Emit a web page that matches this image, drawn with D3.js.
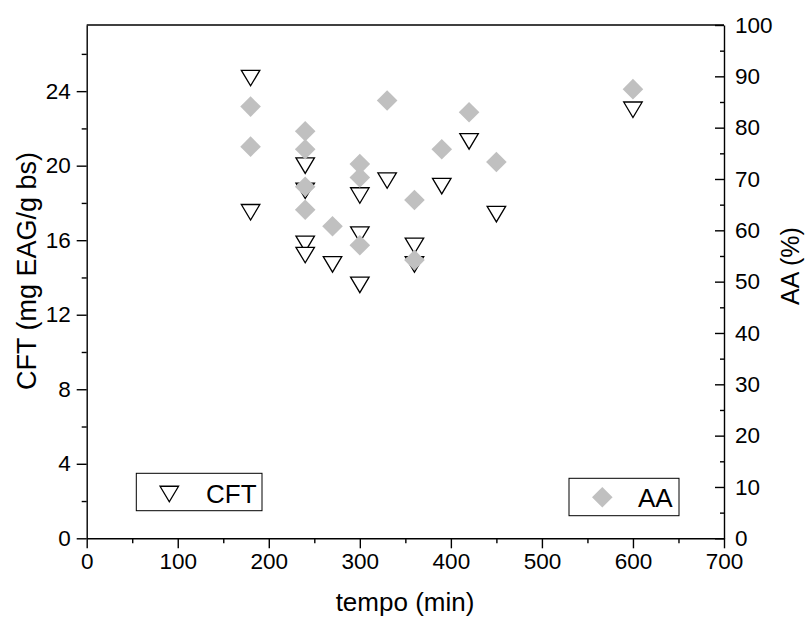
<!DOCTYPE html>
<html>
<head>
<meta charset="utf-8">
<script src="https://cdn.jsdelivr.net/npm/d3@7"></script>
<style>
  body { margin: 0; background: #fff; }
  svg { display: block; font-family: "Liberation Sans", Arial, sans-serif; }
</style>
</head>
<body>
<svg id="chart" width="807" height="618"></svg>
<script>
// ---- data ----
const cftTime = [180, 180, 240, 240, 240, 240, 270, 300, 300, 300, 330, 360, 360, 390, 420, 450, 600];
const cftValues = [24.7, 17.5, 20.0, 18.65, 15.8, 15.2, 14.7, 18.4, 16.3, 13.6, 19.2, 15.7, 14.7, 18.9, 21.3, 17.4, 23.0];
const aaTime = [180, 180, 240, 240, 240, 240, 270, 300, 300, 300, 330, 360, 360, 390, 420, 450, 600];
const aaValues = [84.1, 76.3, 79.3, 75.8, 68.5, 64.0, 60.8, 72.9, 70.3, 57.1, 85.3, 65.9, 54.2, 75.8, 83.0, 73.3, 87.5];
const xTicks = [0, 100, 200, 300, 400, 500, 600, 700];
const yLeftTicks = [0, 4, 8, 12, 16, 20, 24];
const yRightTicks = [0, 10, 20, 30, 40, 50, 60, 70, 80, 90, 100];
const xTitle = "tempo (min)";
const yLeftTitle = "CFT (mg EAG/g bs)";
const yRightTitle = "AA (%)";
const legendCFT = "CFT";
const legendAA = "AA";

// ---- layout ----
const svg = d3.select("#chart");
const L = 86.7, R = 724, T = 25, B = 538.3;
const x = d3.scaleLinear().domain([0, 700]).range([L, R]);
const yL = d3.scaleLinear().domain([0, 27.55]).range([B, T]);
const yR = d3.scaleLinear().domain([0, 100]).range([B, T]);

const tickFont = 22.5;

// frame top line
svg.append("line").attr("x1", L).attr("x2", R).attr("y1", T).attr("y2", T)
  .attr("stroke", "#000").attr("stroke-width", 1.4);

// bottom axis
const gx = svg.append("g").attr("transform", `translate(0,${B})`);
gx.call(d3.axisBottom(x).tickValues(xTicks).tickSize(10).tickSizeOuter(0).tickPadding(5));
gx.append("g").call(d3.axisBottom(x).tickValues(d3.range(50, 700, 100)).tickSize(5).tickFormat(""))
  .select(".domain").remove();

// left axis
const gl = svg.append("g").attr("transform", `translate(${L},0)`);
gl.call(d3.axisLeft(yL).tickValues(yLeftTicks).tickSize(10).tickSizeOuter(0).tickPadding(6));
gl.append("g").call(d3.axisLeft(yL).tickValues([2, 6, 10, 14, 18, 22, 26]).tickSize(5).tickFormat(""))
  .select(".domain").remove();

// right axis (ticks pointing inward)
const gr = svg.append("g").attr("transform", `translate(${R},0)`);
gr.call(d3.axisRight(yR).tickValues(yRightTicks).tickSize(-9).tickSizeOuter(0).tickPadding(11));
gr.append("g").call(d3.axisRight(yR).tickValues(d3.range(5, 100, 10)).tickSize(-4).tickFormat(""))
  .select(".domain").remove();

svg.selectAll(".domain").attr("stroke", "#000").attr("stroke-width", 1.4);
svg.selectAll(".tick line").attr("stroke", "#000").attr("stroke-width", 1.4);
svg.selectAll(".tick text").attr("font-size", tickFont).attr("fill", "#000")
  .attr("font-family", "'Liberation Sans', Arial, sans-serif");
gr.selectAll(".tick text").attr("text-anchor", "start");

// titles
svg.append("text").attr("x", 405).attr("y", 611)
  .attr("text-anchor", "middle").attr("font-size", 26).text(xTitle);
svg.append("text").attr("transform", `translate(36,271) rotate(-90)`)
  .attr("text-anchor", "middle").attr("font-size", 27).text(yLeftTitle);
svg.append("text").attr("transform", `translate(799,266) rotate(-90)`)
  .attr("text-anchor", "middle").attr("font-size", 25).text(yRightTitle);

// markers
const triW = 18.5, triH = 15.5;
const triPath = `M${-triW/2},${-triH/2} L${triW/2},${-triH/2} L0,${triH/2} Z`;
const dia = 10.3;
const diaPath = `M0,${-dia} L${dia},0 L0,${dia} L${-dia},0 Z`;

const cftData = cftTime.map((t, i) => ({t, v: cftValues[i]}));
const aaData = aaTime.map((t, i) => ({t, v: aaValues[i]}));

svg.append("g").selectAll("path").data(cftData).join("path")
  .attr("d", triPath)
  .attr("transform", d => `translate(${x(d.t)},${yL(d.v)})`)
  .attr("fill", "#fff").attr("stroke", "#000").attr("stroke-width", 1.3);

svg.append("g").selectAll("path").data(aaData).join("path")
  .attr("d", diaPath)
  .attr("transform", d => `translate(${x(d.t)},${yR(d.v)})`)
  .attr("fill", "#c0c0c0");

// legends
const lg1 = svg.append("g");
lg1.append("rect").attr("x", 136.3).attr("y", 473.3).attr("width", 125.7).attr("height", 37.4)
  .attr("fill", "#fff").attr("stroke", "#000").attr("stroke-width", 1);
lg1.append("path").attr("d", triPath).attr("transform", "translate(169.3,494)")
  .attr("fill", "#fff").attr("stroke", "#000").attr("stroke-width", 1.3);
lg1.append("text").attr("x", 206).attr("y", 503).attr("font-size", 26).text(legendCFT);

const lg2 = svg.append("g");
lg2.append("rect").attr("x", 569).attr("y", 478.3).attr("width", 110).attr("height", 37.4)
  .attr("fill", "#fff").attr("stroke", "#000").attr("stroke-width", 1);
lg2.append("path").attr("d", diaPath).attr("transform", "translate(602.3,497.3)")
  .attr("fill", "#c0c0c0");
lg2.append("text").attr("x", 638).attr("y", 507).attr("font-size", 26).text(legendAA);
</script>
</body>
</html>
